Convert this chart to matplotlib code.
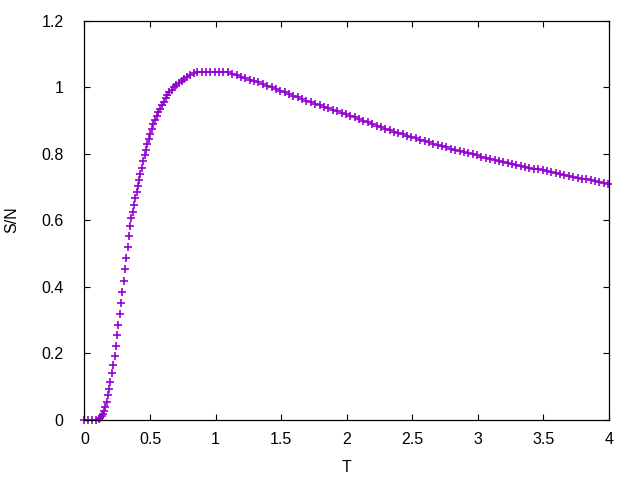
import numpy as np
import matplotlib
matplotlib.use("Agg")
import matplotlib.pyplot as plt

plt.rcParams['font.family'] = ['Liberation Sans', 'DejaVu Sans']

# pontos (T, S/N)
T_subida = [0.000, 0.030, 0.060, 0.090, 0.108, 0.120, 0.130, 0.140, 0.150, 0.160,
            0.170, 0.180, 0.189, 0.198, 0.209, 0.221, 0.231, 0.240, 0.249, 0.258,
            0.268, 0.278, 0.288, 0.298, 0.308, 0.318, 0.329, 0.340, 0.349, 0.357,
            0.370, 0.380, 0.388, 0.400, 0.410, 0.418, 0.427, 0.440, 0.450, 0.458,
            0.470, 0.479, 0.490, 0.501, 0.513, 0.526, 0.538, 0.551, 0.563, 0.576,
            0.590, 0.605, 0.619, 0.633, 0.648, 0.665, 0.683, 0.701, 0.721, 0.741,
            0.760, 0.780, 0.805, 0.832]
S_subida = [0.000, 0.000, 0.000, 0.000, 0.002, 0.005, 0.010, 0.017, 0.026, 0.038,
            0.054, 0.073, 0.092, 0.114, 0.139, 0.164, 0.192, 0.222, 0.253, 0.284,
            0.317, 0.351, 0.383, 0.417, 0.452, 0.485, 0.518, 0.552, 0.583, 0.606,
            0.625, 0.645, 0.666, 0.684, 0.702, 0.722, 0.739, 0.758, 0.777, 0.795,
            0.811, 0.829, 0.844, 0.859, 0.874, 0.888, 0.901, 0.913, 0.924, 0.935,
            0.946, 0.956, 0.966, 0.975, 0.984, 0.991, 0.999, 1.005, 1.011, 1.018,
            1.024, 1.030, 1.036, 1.042]

T_cauda = [0.860, 0.893, 0.927, 0.960, 0.993, 1.027, 1.060, 1.093, 1.127, 1.160,
           1.193, 1.227, 1.260, 1.293, 1.327, 1.360, 1.393, 1.427, 1.460, 1.493,
           1.527, 1.560, 1.593, 1.627, 1.660, 1.693, 1.727, 1.760, 1.793, 1.827,
           1.860, 1.893, 1.927, 1.960, 1.993, 2.027, 2.060, 2.093, 2.127, 2.160,
           2.193, 2.227, 2.260, 2.293, 2.327, 2.360, 2.393, 2.427, 2.460, 2.493,
           2.527, 2.560, 2.593, 2.627, 2.660, 2.693, 2.727, 2.760, 2.793, 2.827,
           2.860, 2.893, 2.927, 2.960, 2.993, 3.027, 3.060, 3.093, 3.127, 3.160,
           3.193, 3.227, 3.260, 3.293, 3.327, 3.360, 3.393, 3.427, 3.460, 3.493,
           3.527, 3.560, 3.593, 3.627, 3.660, 3.693, 3.727, 3.760, 3.793, 3.827,
           3.860, 3.893, 3.927, 3.960, 3.993]
S_cauda = [1.046, 1.046, 1.046, 1.046, 1.046, 1.046, 1.046, 1.044, 1.040, 1.035,
           1.030, 1.026, 1.022, 1.018, 1.014, 1.009, 1.004, 0.999, 0.994, 0.989,
           0.984, 0.979, 0.974, 0.969, 0.964, 0.959, 0.955, 0.950, 0.946, 0.941,
           0.937, 0.932, 0.928, 0.923, 0.918, 0.914, 0.909, 0.904, 0.899, 0.894,
           0.889, 0.884, 0.879, 0.875, 0.870, 0.866, 0.862, 0.858, 0.854, 0.850,
           0.846, 0.842, 0.838, 0.834, 0.830, 0.826, 0.823, 0.819, 0.815, 0.812,
           0.808, 0.805, 0.801, 0.798, 0.795, 0.791, 0.788, 0.785, 0.782, 0.779,
           0.776, 0.773, 0.770, 0.767, 0.764, 0.761, 0.758, 0.755, 0.753, 0.750,
           0.747, 0.744, 0.741, 0.739, 0.736, 0.733, 0.730, 0.728, 0.725, 0.723,
           0.720, 0.718, 0.715, 0.713, 0.710]

x_ticks = [0, 0.5, 1, 1.5, 2, 2.5, 3, 3.5, 4]
y_ticks = [0, 0.2, 0.4, 0.6, 0.8, 1, 1.2]

T = np.array(T_subida + T_cauda)
S = np.array(S_subida + S_cauda)

fig = plt.figure(figsize=(6.4, 4.8), dpi=100)
ax = fig.add_axes([0.132, 0.126, 0.8196, 0.831])

ax.plot(T, S, '+', color='#9400D3', markersize=5.5, markeredgewidth=1.2,
        clip_on=False)

ax.set_xlim(0, 4)
ax.set_ylim(0, 1.2)
ax.set_xticks(x_ticks)
ax.set_xticklabels([f"{v:g}" for v in x_ticks])
ax.set_yticks(y_ticks)
ax.set_yticklabels([f"{v:g}" for v in y_ticks])

ax.tick_params(direction='in', length=4.5, width=0.8, top=True, right=True,
               labelsize=11.5, colors='black')
ax.tick_params(axis='x', pad=9)
ax.tick_params(axis='y', pad=15)
for s in ax.spines.values():
    s.set_linewidth(0.9)

ax.set_xlabel("T", fontsize=11.5, labelpad=9)
ax.set_ylabel("S/N", fontsize=11.5, labelpad=16)

fig.savefig("out.png", dpi=100)
